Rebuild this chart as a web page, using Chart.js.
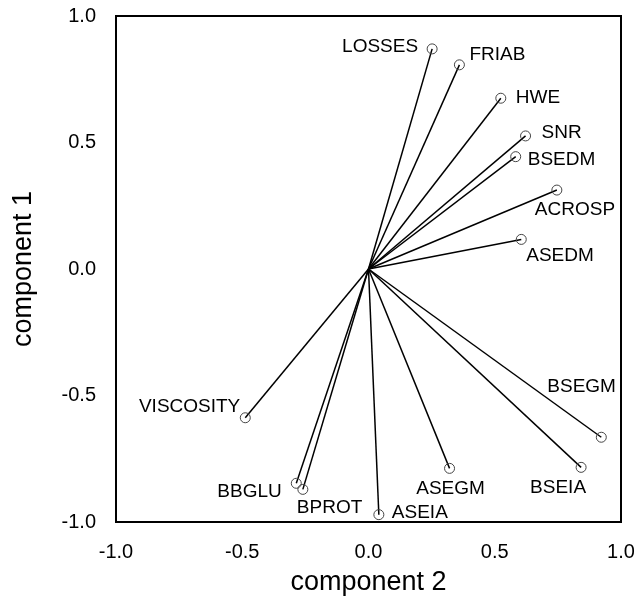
<!DOCTYPE html>
<html lang="en">
<head>
    <meta charset="UTF-8">
    <title>Component loadings</title>
    <script src="https://cdn.jsdelivr.net/npm/chart.js"></script>
    <style>
        html, body { margin: 0; padding: 0; background: #fff; }
        #wrap { width: 634px; height: 599px; }
    </style>
</head>
<body>
    <div id="wrap"><canvas id="loadingsChart" width="634" height="599"></canvas></div>

    <script>
        // variable names and their loadings
        const names = ['LOSSES', 'FRIAB', 'HWE', 'SNR', 'BSEDM', 'ACROSP', 'ASEDM',
                       'BSEGM', 'BSEIA', 'ASEGM', 'ASEIA', 'BPROT', 'BBGLU', 'VISCOSITY'];
        const comp2 = [0.252, 0.360, 0.524, 0.622, 0.583, 0.746, 0.605,
                       0.922, 0.842, 0.321, 0.041, -0.260, -0.286, -0.488];
        const comp1 = [0.870, 0.807, 0.675, 0.526, 0.444, 0.312, 0.117,
                       -0.665, -0.784, -0.788, -0.971, -0.871, -0.847, -0.588];
        const tickValues = [-1.0, -0.5, 0.0, 0.5, 1.0];

        // label placement relative to the point (pixels)
        const labelPos = {
            LOSSES:    { dx: -14, dy: -2,  align: 'right' },
            FRIAB:     { dx: 10,  dy: -10, align: 'left' },
            HWE:       { dx: 15,  dy: 0,   align: 'left' },
            SNR:       { dx: 16,  dy: -3,  align: 'left' },
            BSEDM:     { dx: 12,  dy: 3,   align: 'left' },
            ACROSP:    { dx: -22, dy: 20,  align: 'left' },
            ASEDM:     { dx: 5,   dy: 16,  align: 'left' },
            BSEGM:     { dx: -54, dy: -50, align: 'left' },
            BSEIA:     { dx: -51, dy: 20,  align: 'left' },
            ASEGM:     { dx: 1,   dy: 20,  align: 'center' },
            ASEIA:     { dx: 13,  dy: -2,  align: 'left' },
            BPROT:     { dx: -6,  dy: 18,  align: 'left' },
            BBGLU:     { dx: -79, dy: 8,   align: 'left' },
            VISCOSITY: { dx: -5,  dy: -11, align: 'right' }
        };

        const fontFamily = 'Arial, "Liberation Sans", sans-serif';

        // one dataset per vector: origin -> loading
        const datasets = names.map(function(name, i) {
            return {
                label: name,
                data: [{ x: 0, y: 0 }, { x: comp2[i], y: comp1[i] }],
                showLine: true,
                borderColor: '#000',
                borderWidth: 1.5,
                pointRadius: [0, 5],
                pointBorderColor: '#444',
                pointBorderWidth: 1,
                pointBackgroundColor: 'rgba(0,0,0,0)'
            };
        });

        // frame box and variable labels
        const labelPlugin = {
            id: 'labels',
            afterDatasetsDraw(chart) {
                const ctx = chart.ctx;
                const a = chart.chartArea;
                ctx.save();
                ctx.strokeStyle = '#000';
                ctx.lineWidth = 2;
                ctx.strokeRect(a.left, a.top, a.right - a.left, a.bottom - a.top);

                ctx.fillStyle = '#000';
                ctx.font = '19px ' + fontFamily;
                ctx.textBaseline = 'middle';
                names.forEach(function(name, i) {
                    const pt = chart.getDatasetMeta(i).data[1];
                    const p = labelPos[name];
                    ctx.textAlign = p.align;
                    ctx.fillText(name, pt.x + p.dx, pt.y + p.dy);
                });
                ctx.restore();
            }
        };

        const ctx = document.getElementById('loadingsChart').getContext('2d');
        new Chart(ctx, {
            type: 'scatter',
            data: { datasets: datasets },
            options: {
                responsive: false,
                animation: false,
                layout: { padding: { top: 16, right: 13, left: 0, bottom: 0 } },
                plugins: { legend: { display: false }, tooltip: { enabled: false } },
                scales: {
                    x: {
                        min: -1, max: 1,
                        afterBuildTicks(axis) { axis.ticks = tickValues.map(v => ({ value: v })); },
                        afterFit(axis) {
                            axis.height = 77;
                            axis.paddingLeft = 0;
                            axis.paddingRight = 0;
                        },
                        grid: { display: false, drawTicks: false },
                        border: { display: false },
                        ticks: {
                            color: '#000', padding: 18,
                            font: { size: 20, family: fontFamily },
                            callback: v => Number(v).toFixed(1)
                        },
                        title: {
                            display: true, text: 'component 2', color: '#000',
                            font: { size: 27, family: fontFamily }, padding: 0
                        }
                    },
                    y: {
                        min: -1, max: 1,
                        afterBuildTicks(axis) { axis.ticks = tickValues.map(v => ({ value: v })); },
                        afterFit(axis) {
                            axis.width = 116;
                            axis.paddingTop = 0;
                            axis.paddingBottom = 0;
                        },
                        grid: { display: false, drawTicks: false },
                        border: { display: false },
                        ticks: {
                            color: '#000', padding: 20,
                            font: { size: 20, family: fontFamily },
                            callback: v => Number(v).toFixed(1)
                        },
                        title: {
                            display: true, text: 'component 1', color: '#000',
                            font: { size: 27, family: fontFamily }, padding: 7
                        }
                    }
                }
            },
            plugins: [labelPlugin]
        });
    </script>
</body>
</html>
